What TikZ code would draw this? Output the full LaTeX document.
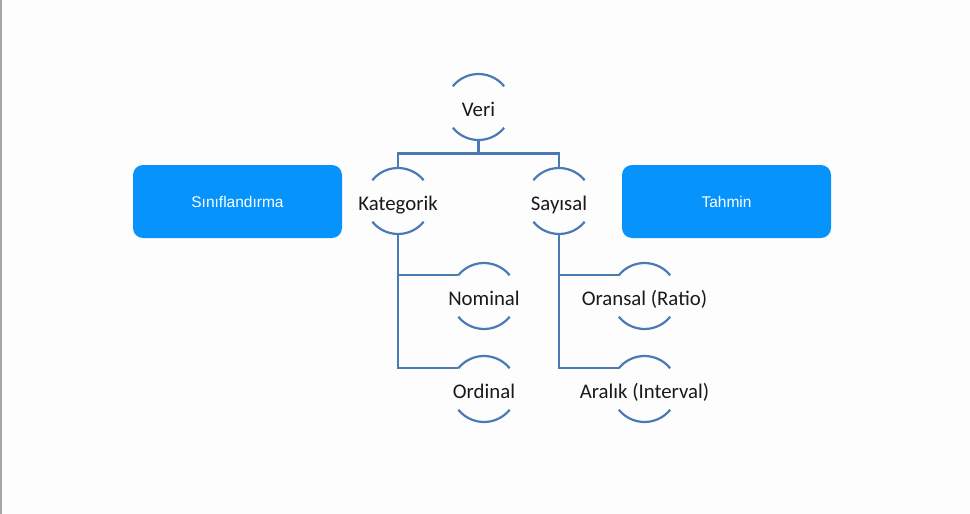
\documentclass[tikz,border=0pt]{standalone}
\usepackage{fontspec}
\setmainfont{Carlito}
\newfontfamily\boxfont{Liberation Sans}
\definecolor{linec}{RGB}{74,122,180}
\definecolor{boxc}{RGB}{6,148,252}
\definecolor{bgc}{RGB}{253,253,253}
\definecolor{edgec}{RGB}{165,165,165}
\definecolor{txtc}{RGB}{25,25,25}
\begin{document}
\begin{tikzpicture}[x=1pt,y=-1pt,
  conn/.style={draw=linec,line width=2.2pt},
  arcline/.style={draw=linec,line width=2.2pt},
  ringlabel/.style={font=\fontsize{20.8}{24}\selectfont,text=txtc,inner sep=0pt,text height=18pt,text depth=0pt},
  bluebox/.style={fill=boxc,rounded corners=10pt,minimum width=209pt,minimum height=73pt,text=white,font=\boxfont\fontsize{15.5}{18}\selectfont,inner sep=0pt}]
\fill[bgc] (0,0) rectangle (970,514);
\fill[edgec] (0,0) rectangle (1.5,514);
\useasboundingbox (0,0) rectangle (970,514);

\node[ringlabel] (veri) at (478.5,107) {Veri};
\node[ringlabel] (kat) at (398,201) {Kategorik};
\node[ringlabel] (say) at (559,201) {Sayısal};
\node[ringlabel] (nom) at (484,296) {Nominal};
\node[ringlabel] (ord) at (484,389) {Ordinal};
\node[ringlabel] (ora) at (644.5,296) {Oransal (Ratio)};
\node[ringlabel] (ara) at (644.5,389) {Aralık (Interval)};

\node[bluebox] (sin) at (237.5,201.5) {\raisebox{-1.5pt}{Sınıflandırma}};
\node[bluebox] (tah) at (726.5,201.5) {\raisebox{-1.5pt}{Tahmin}};

\foreach \n in {veri,kat,say,nom,ord,ora,ara} {
  \draw[arcline] ([shift={(39:33pt)}]\n.center) arc[start angle=39,end angle=141,radius=33pt];
  \draw[arcline] ([shift={(219:33pt)}]\n.center) arc[start angle=219,end angle=321,radius=33pt];
}

\coordinate (split) at (478.5,153.5);
\draw[conn] ([yshift=-33pt]veri.center) -- (split);
\draw[conn] ([yshift=33pt]kat.center) |- (split) -| ([yshift=33pt]say.center);
\draw[conn] ([yshift=-33pt]kat.center) |- ([shift={(141:33pt)}]nom.center);
\draw[conn] ([yshift=-33pt]kat.center) |- ([shift={(141:33pt)}]ord.center);
\draw[conn] ([yshift=-33pt]say.center) |- ([shift={(141:33pt)}]ora.center);
\draw[conn] ([yshift=-33pt]say.center) |- ([shift={(141:33pt)}]ara.center);
\end{tikzpicture}
\end{document}
